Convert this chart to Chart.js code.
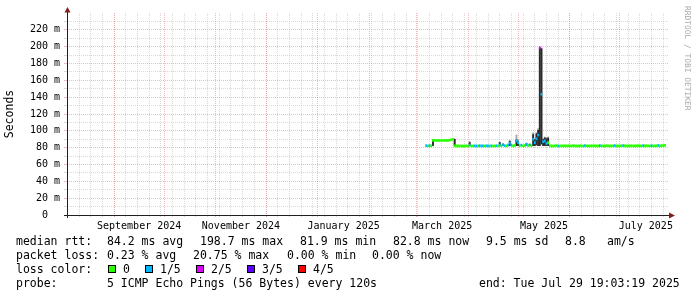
<!DOCTYPE html>
<html>
<head>
<meta charset="utf-8">
<script src="https://cdn.jsdelivr.net/npm/chart.js@4.4.1/dist/chart.umd.min.js"></script>
<style>
    html, body { margin: 0; padding: 0; background: #fff; }
    #wrap { position: relative; width: 697px; height: 297px; overflow: hidden; font-family: 'DejaVu Sans Mono', monospace; }
    #graph { position: absolute; left: 0; top: 0; }
    .leg { position: absolute; font-size: 11.5px; line-height: 14px; white-space: pre; color: #000; }
    .box { position: absolute; width: 6px; height: 6px; border: 1px solid #000; top: 265px; }
    #mark { position: absolute; left: 683px; top: 6px; writing-mode: vertical-rl; font-size: 7.9px; color: #a8a8a8; }
</style>
</head>
<body>
<div id="wrap">
    <canvas id="graph" width="697" height="297"></canvas>

    <div class="leg" style="left:16px;top:234px">median rtt:</div>
    <div class="leg" style="left:107px;top:234px">84.2 ms avg</div>
    <div class="leg" style="left:200px;top:234px">198.7 ms max</div>
    <div class="leg" style="left:300px;top:234px">81.9 ms min</div>
    <div class="leg" style="left:393px;top:234px">82.8 ms now</div>
    <div class="leg" style="left:486px;top:234px">9.5 ms sd</div>
    <div class="leg" style="left:565px;top:234px">8.8</div>
    <div class="leg" style="left:607px;top:234px">am/s</div>

    <div class="leg" style="left:16px;top:248px">packet loss:</div>
    <div class="leg" style="left:107px;top:248px">0.23 % avg</div>
    <div class="leg" style="left:193px;top:248px">20.75 % max</div>
    <div class="leg" style="left:287px;top:248px">0.00 % min</div>
    <div class="leg" style="left:372px;top:248px">0.00 % now</div>

    <div class="leg" style="left:16px;top:262px">loss color:</div>
    <div id="lossLegend"></div>

    <div class="leg" style="left:16px;top:276px">probe:</div>
    <div class="leg" style="left:107px;top:276px">5 ICMP Echo Pings (56 Bytes) every 120s</div>
    <div class="leg" style="left:479px;top:276px">end: Tue Jul 29 19:03:19 2025</div>

    <div id="mark">RRDTOOL / TOBI OETIKER</div>
</div>

<script>
// valores - dias contados a partir de 01/03/2025
const firstDay = 6;

// mediana diária (ms), do dia 6 até o dia 149
const medianMs = [
    82.4, 82.0, 82.5, 82.1, 88.6, 88.8, 88.5, 88.7, 88.4, 88.6,
    88.5, 88.7, 88.4, 88.6, 88.9, 89.4, 90.0, 82.2, 82.0, 82.1,
    82.0, 82.2, 81.9, 82.0, 82.1, 82.0, 83.0, 82.1, 82.0, 82.2,
    82.0, 82.1, 82.3, 82.0, 82.1, 82.0, 82.2, 82.1, 82.0, 82.2,
    82.0, 82.1, 82.3, 82.0, 83.0, 82.2, 83.5, 82.4, 82.1, 83.0,
    85.5, 83.0, 82.2, 82.5, 88.0, 86.0, 82.4, 83.0, 82.2, 82.5,
    84.0, 82.6, 83.2, 82.4, 90.0, 86.0, 90.5, 95.0, 198.7, 143.5,
    87.0, 88.0, 85.0, 86.0, 82.3, 82.1, 82.0, 82.2, 82.4, 82.1,
    82.0, 82.2, 82.1, 82.3, 82.0, 82.2, 82.1, 82.0, 82.4, 82.2,
    82.1, 82.0, 82.3, 82.1, 82.0, 82.4, 82.2, 82.1, 82.0, 82.3,
    82.1, 82.2, 82.0, 82.1, 82.4, 82.2, 82.0, 82.1, 82.3, 82.2,
    82.0, 82.1, 82.2, 82.5, 82.1, 82.0, 82.2, 82.3, 82.5, 82.1,
    82.0, 82.2, 82.1, 82.3, 82.0, 82.2, 82.1, 82.4, 82.2, 82.0,
    82.5, 82.1, 82.3, 82.2, 82.0, 82.4, 82.1, 82.2, 82.3, 82.6,
    82.1, 82.4, 82.6, 82.8
];

// pacotes perdidos (de 5) em cada dia
const lossCount = [
    1, 0, 1, 0, 0, 0, 0, 0, 0, 0,
    0, 0, 0, 0, 0, 0, 0, 0, 0, 0,
    0, 0, 0, 0, 0, 0, 1, 0, 0, 1,
    1, 0, 1, 1, 1, 0, 1, 1, 0, 1,
    0, 0, 1, 0, 1, 0, 1, 1, 0, 1,
    1, 1, 0, 0, 1, 1, 0, 1, 0, 0,
    1, 0, 1, 0, 1, 1, 1, 1, 2, 1,
    1, 1, 1, 0, 0, 0, 0, 0, 0, 1,
    0, 0, 0, 0, 0, 0, 0, 0, 0, 0,
    0, 0, 0, 0, 0, 1, 0, 0, 0, 0,
    0, 0, 0, 0, 1, 0, 0, 0, 0, 0,
    0, 0, 0, 1, 0, 0, 0, 0, 1, 0,
    0, 0, 0, 0, 0, 0, 0, 0, 0, 0,
    1, 0, 0, 0, 0, 1, 0, 0, 0, 1,
    0, 0, 0, 0
];

// "fumaça" (dispersão dos pings) nos dias com picos
const smokeDays    = [10, 23, 32, 50, 52, 56, 60, 61, 66, 68, 70, 71, 72, 73, 74, 75, 76, 77, 78, 79];
const smokeMin     = [82, 82, 82, 82, 82, 82, 82, 82, 82, 82, 82, 82, 82.5, 82, 82, 84, 82, 82, 82, 82];
const smokeMax     = [88.8, 90.5, 87.5, 87, 85, 89, 95.5, 90, 86, 85, 98, 91, 98, 103, 199, 199, 91, 93, 92, 93];
const smokeInnerLo = [82, 82, 82, 82, 82, 82, 82, 82, 82, 82, 82, 82, 83, 82, 82, 84, 82, 82, 82, 82];
const smokeInnerHi = [88.8, 90.5, 86.5, 86.5, 84.5, 88, 89.5, 88, 85, 84, 96, 90, 97, 101, 198.7, 198, 90, 92, 91, 92];

// eixos
const monthStarts = ['2024-09-01', '2024-10-01', '2024-11-01', '2024-12-01', '2025-01-01', '2025-02-01',
                     '2025-03-01', '2025-04-01', '2025-05-01', '2025-06-01', '2025-07-01'];
const labelMonths = ['2024-09-01', '2024-11-01', '2025-01-01', '2025-03-01', '2025-05-01', '2025-07-01'];
const monthLabels = ['September 2024', 'November 2024', 'January 2025', 'March 2025', 'May 2025', 'July 2025'];
const yLabels = ['0  ', '20 m', '40 m', '60 m', '80 m', '100 m', '120 m', '140 m', '160 m', '180 m', '200 m', '220 m'];

const lossLabels = ['0', '1/5', '2/5', '3/5', '4/5'];
const lossColors = ['#26ff00', '#00b8ff', '#dd00ff', '#5e00ff', '#ff0000'];

// ---------------------------------------------------------------

const DAY = 864e5;
const day0 = Date.parse('2025-03-01');
const toDay = (s) => (Date.parse(s) - day0) / DAY;

const xMax = (Date.parse('2025-07-29T19:03:19Z') - day0) / DAY;
const xMin = xMax - 360;

const monthCenter = (s) => {
    const d = new Date(s);
    const next = Date.UTC(d.getUTCFullYear(), d.getUTCMonth() + 1, 1);
    return (Date.parse(s) + next) / 2 / DAY - day0 / DAY;
};

// linhas semanais (domingos)
const weekTicks = [];
for (let t = toDay('2024-08-11'); t < xMax; t += 7) weekTicks.push({ value: t });

const MAJOR = 'rgba(232, 120, 120, 0.5)';
const MINOR = 'rgba(170, 170, 170, 0.45)';
const halfBand = 1.6;

const medianBars = medianMs.map((m, i) => ({ x: firstDay + i, y: [m - halfBand, m + halfBand] }));
const outerBars = smokeDays.map((d, i) => ({ x: d, y: [smokeMin[i], smokeMax[i]] }));
const innerBars = smokeDays.map((d, i) => ({ x: d, y: [smokeInnerLo[i], smokeInnerHi[i]] }));

// legenda das cores de perda
const boxLeft = [108, 145, 196, 247, 298];
const lossHolder = document.getElementById('lossLegend');
lossLabels.forEach((lbl, i) => {
    const b = document.createElement('div');
    b.className = 'box';
    b.style.left = boxLeft[i] + 'px';
    b.style.background = lossColors[i];
    lossHolder.appendChild(b);
    const t = document.createElement('div');
    t.className = 'leg';
    t.style.left = (boxLeft[i] + 15) + 'px';
    t.style.top = '262px';
    t.textContent = lbl;
    lossHolder.appendChild(t);
});

// eixos com setas no estilo rrdtool
const rrdAxes = {
    id: 'rrdAxes',
    afterDraw(chart) {
        const { ctx, chartArea: a } = chart;
        const x0 = Math.round(a.left) + 0.5;
        const y0 = Math.round(a.bottom) + 0.5;
        ctx.save();
        ctx.strokeStyle = '#1f1f1f';
        ctx.lineWidth = 1;
        ctx.beginPath();
        ctx.moveTo(a.left - 3, y0);
        ctx.lineTo(a.right + 2, y0);
        ctx.moveTo(x0, a.bottom + 3);
        ctx.lineTo(x0, a.top - 2);
        ctx.stroke();
        ctx.fillStyle = '#7f1f1f';
        ctx.beginPath();
        ctx.moveTo(x0, a.top - 6);
        ctx.lineTo(x0 - 3, a.top - 0.5);
        ctx.lineTo(x0 + 3, a.top - 0.5);
        ctx.closePath();
        ctx.moveTo(a.right + 7, y0);
        ctx.lineTo(a.right + 1, y0 - 3);
        ctx.lineTo(a.right + 1, y0 + 3);
        ctx.closePath();
        ctx.fill();
        ctx.restore();
    }
};

Chart.defaults.font.family = 'DejaVu Sans Mono';
Chart.defaults.font.size = 10;
Chart.defaults.color = '#000';

new Chart(document.getElementById('graph'), {
    type: 'bar',
    data: {
        datasets: [
            {
                label: 'median rtt',
                data: medianBars,
                backgroundColor: (c) => lossColors[lossCount[c.dataIndex]] || lossColors[0],
                order: 0
            },
            { label: 'smoke inner', data: innerBars, backgroundColor: '#2b2b2b', order: 1 },
            { label: 'smoke', data: outerBars, backgroundColor: '#a3a3a3', order: 2 }
        ]
    },
    options: {
        responsive: false,
        animation: false,
        events: [],
        layout: { padding: { left: 0, right: 29, top: 13, bottom: 0 } },
        datasets: {
            bar: { grouped: false, barPercentage: 1.1, categoryPercentage: 1, borderWidth: 0 }
        },
        plugins: { legend: { display: false }, tooltip: { enabled: false } },
        scales: {
            x: {
                type: 'linear', min: xMin, max: xMax, offset: false, weight: 0,
                afterBuildTicks: (s) => { s.ticks = monthStarts.map(m => ({ value: toDay(m) })); },
                afterFit: (s) => { s.height = 0; },
                grid: { color: MAJOR, tickColor: MAJOR, offset: false, tickLength: 2 },
                border: { display: false, dash: [1, 1] },
                ticks: { display: false }
            },
            xMinor: {
                type: 'linear', axis: 'x', position: 'bottom', min: xMin, max: xMax, offset: false, weight: 1,
                afterBuildTicks: (s) => { s.ticks = weekTicks.slice(); },
                afterFit: (s) => { s.height = 0; },
                grid: { color: MINOR, tickColor: MINOR, offset: false, tickLength: 2, z: -2 },
                border: { display: false, dash: [1, 1] },
                ticks: { display: false }
            },
            xLabels: {
                type: 'linear', axis: 'x', position: 'bottom', min: xMin, max: xMax, offset: false, weight: 2,
                afterBuildTicks: (s) => { s.ticks = labelMonths.map(m => ({ value: monthCenter(m) })); },
                afterFit: (s) => { s.height = 82; },
                grid: { display: false, offset: false },
                border: { display: false },
                ticks: {
                    autoSkip: false, maxRotation: 0, padding: -3,
                    callback: (v, i) => monthLabels[i]
                }
            },
            y: {
                min: 0, max: 240,
                afterBuildTicks: (s) => {
                    const t = [];
                    for (let i = 0; i < yLabels.length * 2; i++) t.push({ value: i * 10 });
                    s.ticks = t;
                },
                afterFit: (s) => { s.width = 67; },
                grid: {
                    color: (c) => (c.tick && c.tick.value % 20 === 0) ? MAJOR : MINOR,
                    tickColor: (c) => (c.tick && c.tick.value % 20 === 0) ? MAJOR : MINOR,
                    tickLength: 3
                },
                border: { display: false, dash: [1, 1] },
                ticks: {
                    autoSkip: false, padding: 4,
                    callback: (v) => (v % 20 === 0) ? yLabels[v / 20] : ''
                },
                title: {
                    display: true, text: 'Seconds',
                    font: { size: 11.5 }, padding: { top: 3, bottom: 0 }
                }
            }
        }
    },
    plugins: [rrdAxes]
});
</script>
</body>
</html>
